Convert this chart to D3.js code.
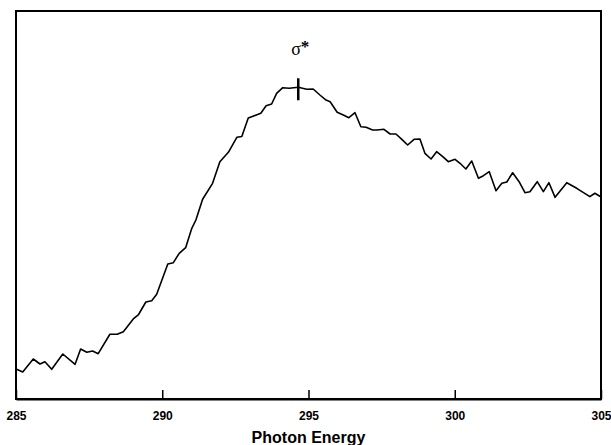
<!DOCTYPE html>
<html>
<head>
<meta charset="utf-8">
<script src="https://cdn.jsdelivr.net/npm/d3@7"></script>
<style>
  html, body { margin: 0; padding: 0; background: #fff; }
  svg { display: block; }
</style>
</head>
<body>
<svg id="chart" width="611" height="445"></svg>
<script>
const energy = [285.02,285.23,285.59,285.82,285.99,286.22,286.60,287.02,287.21,287.42,287.62,287.81,288.21,288.46,288.67,289.01,289.18,289.44,289.64,289.81,290.19,290.38,290.58,290.80,291.01,291.15,291.38,291.72,291.97,292.26,292.55,292.72,292.94,293.37,293.55,293.74,293.91,294.12,294.34,294.65,294.94,295.16,295.39,295.60,295.74,295.98,296.19,296.38,296.59,296.79,296.97,297.19,297.34,297.58,297.79,297.99,298.19,298.39,298.61,298.81,298.98,299.19,299.38,299.59,299.78,300.01,300.18,300.38,300.58,300.81,300.98,301.18,301.41,301.61,301.78,301.98,302.20,302.40,302.57,302.82,303.03,303.22,303.43,303.83,304.17,304.62,304.79,304.99];
const intensity = [7.65,6.96,10.31,9.02,9.61,7.65,11.60,8.94,12.89,12.04,12.37,11.68,16.68,16.68,17.35,20.62,21.65,25.00,25.34,26.98,34.79,35.13,37.55,39.00,44.00,46.13,51.47,55.59,61.16,63.58,67.45,67.65,72.42,73.63,75.59,76.03,78.79,80.23,80.08,80.34,79.82,79.90,78.35,77.06,76.62,73.89,73.20,72.50,73.79,70.18,70.03,69.33,69.33,69.51,68.30,68.30,66.93,65.46,66.93,67.01,63.32,61.86,63.74,62.45,61.16,61.78,60.75,59.28,61.34,56.88,57.55,58.58,53.69,55.59,55.93,58.32,56.01,53.17,53.43,56.01,53.43,55.75,51.98,55.75,54.30,52.14,53.02,52.14];
const xTicks = [285, 290, 295, 300, 305];
const xTickLabels = ["285", "290", "295", "300", "305"];
const peakEnergy = [294.65];
const peakLabel = ["σ", "*"];
const xTitle = "Photon Energy";

(function () {
const svg = d3.select("#chart");
const mLeft = 16, mRight = 601, mTop = 11, mBottom = 399;

const x = d3.scaleLinear().domain([285, 305]).range([mLeft, mRight]);
const y = d3.scaleLinear().domain([0, 100]).range([mBottom, mTop]);

// frame
svg.append("rect")
  .attr("x", mLeft).attr("y", mTop)
  .attr("width", mRight - mLeft).attr("height", mBottom - mTop)
  .attr("fill", "none").attr("stroke", "#000").attr("stroke-width", 2);

// x axis ticks (inward)
const xAxis = d3.axisBottom(x)
  .tickValues(xTicks)
  .tickFormat((d, i) => xTickLabels[i])
  .tickSizeInner(-9).tickSizeOuter(0).tickPadding(12);
const gx = svg.append("g").attr("transform", `translate(0,${mBottom})`).call(xAxis);
gx.select(".domain").attr("stroke", "#000").attr("stroke-width", 2);
gx.selectAll(".tick line").attr("stroke", "#000").attr("stroke-width", 1.5);
gx.selectAll(".tick text")
  .attr("font-family", "Liberation Sans, Arial, sans-serif")
  .attr("font-weight", "bold").attr("font-size", 12).attr("fill", "#000");

// axis title
svg.append("text")
  .attr("x", x(295)).attr("y", 443)
  .attr("text-anchor", "middle")
  .attr("font-family", "Liberation Sans, Arial, sans-serif")
  .attr("font-weight", "bold").attr("font-size", 16)
  .text(xTitle);

// spectrum line
const line = d3.line().x((d, i) => x(energy[i])).y(d => y(d));
svg.append("path")
  .datum(intensity)
  .attr("d", line)
  .attr("fill", "none").attr("stroke", "#000").attr("stroke-width", 1.6)
  .attr("stroke-linejoin", "round");

// peak marker
const pe = peakEnergy[0];
const pIdx = energy.indexOf(pe);
const py = y(intensity[pIdx]);
svg.append("line")
  .attr("x1", x(pe)).attr("x2", x(pe))
  .attr("y1", py - 9).attr("y2", py + 13)
  .attr("stroke", "#000").attr("stroke-width", 2.5);

const lbl = svg.append("text")
  .attr("x", x(pe) + 2).attr("y", py - 32)
  .attr("text-anchor", "middle")
  .attr("font-family", "Liberation Serif, Times New Roman, serif")
  .attr("font-size", 18).attr("fill", "#000");
lbl.append("tspan").text(peakLabel[0]);
lbl.append("tspan").attr("dy", -3).attr("font-size", 17).attr("font-weight", "bold").text(peakLabel[1]);
})();
</script>
</body>
</html>
